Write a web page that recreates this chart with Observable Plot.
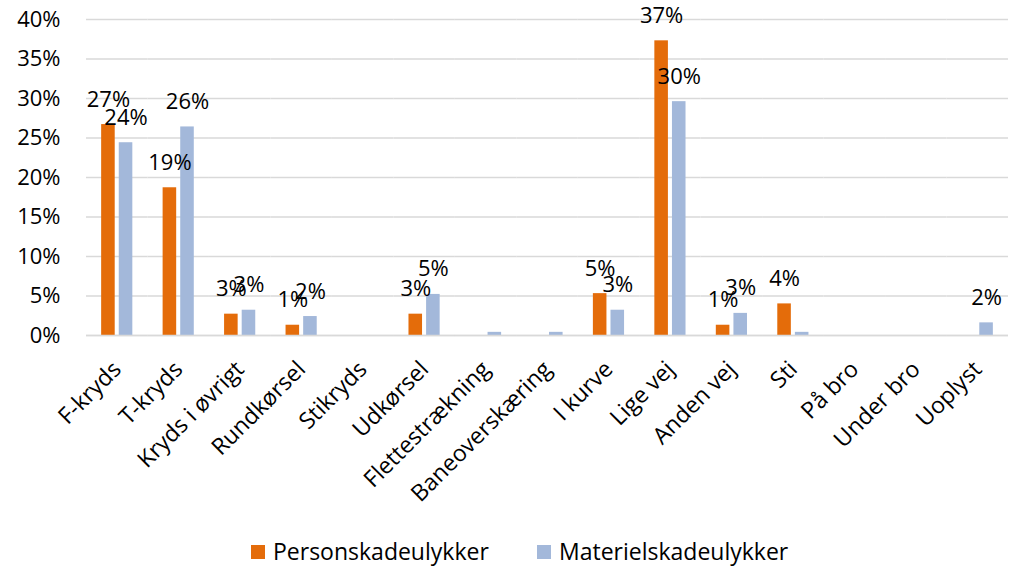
<!DOCTYPE html>
<html>
<head>
<meta charset="utf-8">
<script src="https://cdn.jsdelivr.net/npm/d3@7"></script>
<script src="https://cdn.jsdelivr.net/npm/@observablehq/plot@0.6"></script>
<style>
  html, body { margin: 0; padding: 0; background: #fff; }
  body { width: 1010px; height: 567px; overflow: hidden; font-family: "Open Sans", sans-serif; }
  #legend { position: relative; height: 37px; font-size: 23px; line-height: 31px; color: #000; }
  .item { position: absolute; top: 6px; display: flex; align-items: center; }
  .sw { width: 14px; height: 14px; margin-right: 8px; }
</style>
</head>
<body>
<div id="chart"></div>
<div id="legend"></div>
<script>
const categories = ["F-kryds", "T-kryds", "Kryds i øvrigt", "Rundkørsel", "Stikryds", "Udkørsel",
  "Flettestrækning", "Baneoverskæring", "I kurve", "Lige vej", "Anden vej", "Sti", "På bro", "Under bro", "Uoplyst"];
const seriesNames = ["Personskadeulykker", "Materielskadeulykker"];
const person   = [26.7, 18.7, 2.7, 1.3, 0, 2.7, 0, 0, 5.3, 37.3, 1.3, 4.0, 0, 0, 0];
const material = [24.4, 26.4, 3.2, 2.4, 0, 5.2, 0.4, 0.4, 3.2, 29.6, 2.8, 0.4, 0, 0, 1.6];
const yTicks = [0, 5, 10, 15, 20, 25, 30, 35, 40];
const colors = ["#E46C0A", "#A3B8DA"];

const data = [];
categories.forEach((c, i) => {
  data.push({cat: c, series: seriesNames[0], value: person[i]});
  data.push({cat: c, series: seriesNames[1], value: material[i]});
});
const labelData = data.filter(d => Math.round(d.value) >= 1);

const chart = Plot.plot({
  width: 1010,
  height: 530,
  marginTop: 19,
  marginBottom: 195,
  marginLeft: 86,
  marginRight: 2,
  style: {fontFamily: "'Open Sans', sans-serif", color: "#000", background: "#fff"},
  fx: {domain: categories, padding: 0, round: false, label: null},
  x: {domain: seriesNames, paddingInner: 0.23, paddingOuter: 0.86, round: false, axis: null},
  y: {domain: [0, 40], label: null},
  color: {domain: seriesNames, range: colors},
  marks: [
    Plot.gridY(yTicks, {stroke: "#d9d9d9", strokeOpacity: 1, strokeWidth: 1.5}),
    Plot.barY(data, {fx: "cat", x: "series", y: "value", fill: "series"}),
    Plot.ruleY([0], {stroke: "#d9d9d9", strokeWidth: 1.5}),
    Plot.text(labelData, {fx: "cat", x: "series", y: "value", text: d => Math.round(d.value) + "%",
      dy: -25, fontSize: 22, fill: "#000", lineAnchor: "middle"}),
    Plot.axisY({ticks: yTicks, tickFormat: d => d + "%", tickSize: 0, tickPadding: 26, fontSize: 22, label: null}),
    Plot.axisFx({anchor: "bottom", tickRotate: -45, tickSize: 0, tickPadding: 30, fontSize: 23, label: null})
  ]
});
document.getElementById("chart").appendChild(chart);

const legend = document.getElementById("legend");
const lefts = [251, 537];
seriesNames.forEach((s, i) => {
  const item = document.createElement("div");
  item.className = "item";
  item.style.left = lefts[i] + "px";
  const sw = document.createElement("div");
  sw.className = "sw";
  sw.style.background = colors[i];
  const t = document.createElement("span");
  t.textContent = s;
  item.appendChild(sw);
  item.appendChild(t);
  legend.appendChild(item);
});
</script>
</body>
</html>
